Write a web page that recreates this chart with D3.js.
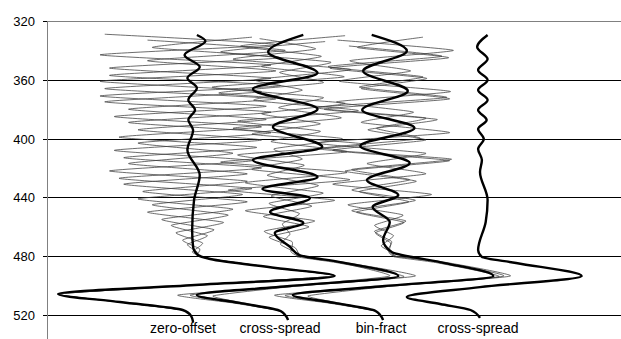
<!DOCTYPE html>
<html>
<head>
<meta charset="utf-8">
<script src="https://cdn.jsdelivr.net/npm/d3@7"></script>
<style>
  body { margin: 0; background: #fff; }
  svg { display: block; font-family: "Liberation Sans", Arial, sans-serif; }
</style>
</head>
<body>
<div id="chart"></div>
<script>
// time ticks (ms, increasing downward)
const timeTicks = [320, 360, 400, 440, 480, 520]
const groupNames = ["zero-offset", "cross-spread", "bin-fract", "cross-spread"]

// stacked (thick) traces, [time, amplitude] turning points
const zeroOffsetStack = [
  [329.5, 0.02], [333.6, 0.11], [343.1, -0.11], [351.3, 0.05], [358.8, -0.08], [365.6, 0.02],
  [373.7, -0.07], [380.5, 0.0], [387.3, -0.07], [394.1, -0.02], [407.8, -0.08], [424.8, 0.05],
  [441.8, -0.01], [462.2, -0.03], [473.7, -0.02], [479.2, 0.03], [481.9, 0.16], [488, 0.85],
  [493.5, 1.47], [499.6, 0.0], [505.7, -1.44], [511.2, -0.79], [516.6, -0.13], [520.7, -0.04], [524.8, -0.02]
]
const crossSpreadStack = [
  [329.5, 0.14], [341.1, -0.23], [355.4, 0.29], [366.3, -0.39], [379.9, 0.29], [392.1, -0.18],
  [405.7, 0.34], [414.6, -0.39], [426.1, 0.29], [434.3, -0.29], [440.4, 0.21], [449.9, -0.21],
  [457.4, 0.14], [464.2, -0.16], [473.7, 0.0], [479.2, 0.1], [484, 0.53], [493.5, 1.14],
  [500.3, 0.0], [506.4, -0.98], [511.8, -0.53], [517.3, -0.1], [523.4, -0.02]
]
const binFractStack = [
  [329.5, -0.14], [340.4, 0.23], [354, -0.23], [367.6, 0.24], [380.5, -0.24], [392.8, 0.31],
  [405, -0.26], [416.6, 0.26], [428.2, -0.19], [438.4, 0.14], [446.5, -0.13], [456.7, 0.05],
  [469, -0.02], [477.1, 0.07], [484, 0.58], [493.5, 1.14], [500.3, 0.0], [506.4, -0.97],
  [511.8, -0.53], [517.3, -0.1], [523.4, -0.02]
]
const crossSpread2Stack = [
  [329.5, 0.08], [337.7, -0.03], [345.9, 0.08], [353.3, -0.02], [360.1, 0.08], [366.9, -0.02],
  [373.7, 0.08], [380.5, -0.02], [387.3, 0.07], [393.5, -0.02], [400.3, 0.04], [407.1, -0.02],
  [414.6, 0.02], [422.7, 0.0], [441.8, 0.08], [456.7, 0.06], [475.8, -0.02], [480.5, 0.02],
  [484.6, 0.38], [493.5, 1.07], [501, 0.0], [507.8, -0.77], [512.5, -0.42], [516.6, -0.1], [522, 0.0]
]

// single (thin) traces, zero-offset group
const zeroOffsetTraces = [
  [[329, -0.95], [336, 0.85], [343, -1.0], [350, 0.8], [357, -0.9], [364, 0.9], [371, -1.0], [378, 0.75],
   [385, -0.85], [392, 0.7], [399, -0.8], [406, 0.65], [413, -0.75], [420, 0.7], [427, -0.8], [434, 0.6],
   [441, -0.6], [448, 0.4], [455, -0.35], [462, 0.2], [469, -0.13], [475, 0.05]],
  [[331, 0.6], [338, -0.45], [345, 0.9], [352, -0.9], [359, 0.8], [366, -0.95], [373, 0.85], [380, -0.7],
   [387, 0.75], [394, -0.6], [401, 0.7], [408, -0.85], [415, 0.6], [422, -0.9], [429, 0.55], [436, -0.55],
   [443, 0.55], [450, -0.5], [457, 0.3], [464, -0.2], [471, 0.08], [477, -0.03]],
  [[333, -0.5], [340, 0.95], [347, -0.5], [354, 0.85], [361, -1.0], [368, 0.7], [375, -0.95], [382, 0.8],
   [389, -0.7], [396, 0.8], [403, -0.6], [410, 0.4], [417, -0.7], [424, 0.55], [431, -0.75], [438, 0.5],
   [445, -0.45], [452, 0.35], [459, -0.25], [466, 0.13], [472, -0.08], [477, 0.02]]
]

// single traces, cross-spread group
const crossSpreadTraces = [
  [[330, 0.58], [337, -0.52], [344, 0.33], [351, -0.3], [358, 0.57], [365, -0.82], [372, 0.35], [379, -0.12],
   [386, 0.54], [393, -0.6], [400, 0.55], [407, -0.17], [414, 0.13], [421, -0.4], [428, 0.63], [435, -0.65],
   [442, 0.47], [449, -0.47], [456, 0.26], [463, -0.27], [470, 0.02], [477, 0.01],
   [480, 0.1], [484, 0.55], [493.5, 1.32], [500.3, 0.05], [506.4, -1.18], [511.8, -0.6], [517.3, -0.1], [523.4, -0.02]],
  [[332, -0.32], [339, 0.27], [346, -0.6], [353, 0.64], [360, -0.37], [367, 0.13], [374, -0.38], [381, 0.72],
   [388, -0.55], [395, 0.32], [402, -0.2], [409, 0.6], [416, -0.73], [423, 0.6], [430, -0.47], [437, 0.35],
   [444, -0.22], [451, 0.1], [458, -0.08], [465, 0.0], [472, -0.1], [478, 0.08],
   [480.5, 0.08], [484.5, 0.5], [494, 1.2], [500.8, 0.0], [507, -0.81], [512.3, -0.45], [517.5, -0.08], [523.4, -0.02]],
  [[334, 0.37], [341, -0.73], [348, 0.43], [355, -0.11], [362, 0.35], [369, -0.75], [376, 0.58], [383, -0.3],
   [390, 0.32], [397, -0.4], [404, 0.8], [411, -0.55], [418, 0.15], [425, -0.24], [432, 0.3], [439, -0.2],
   [446, 0.23], [453, -0.28], [460, 0.2], [467, -0.22], [474, 0.05],
   [480, 0.12], [484, 0.5], [493.5, 1.05], [500.5, -0.05], [506.4, -1.05], [512, -0.55], [517.3, -0.1], [523.4, -0.02]]
]

// single traces, bin-fract group
const binFractTraces = [
  [[331, 0.4], [338, -0.29], [345, 0.67], [352, -0.58], [359, 0.44], [366, -0.25], [373, 0.68], [380, -0.64],
   [387, 0.55], [394, -0.18], [401, 0.43], [408, -0.55], [415, 0.68], [422, -0.42], [429, 0.33], [436, -0.27],
   [443, 0.25], [450, -0.3], [457, 0.2], [464, -0.1], [471, 0.06], [477, 0.04],
   [480, 0.1], [484, 0.62], [493.5, 1.32], [500.3, 0.05], [506.4, -1.16], [511.8, -0.6], [517.3, -0.1], [523.4, -0.02]],
  [[333, -0.5], [340, 0.72], [347, -0.37], [354, 0.27], [361, -0.48], [368, 0.69], [375, -0.51], [382, 0.3],
   [389, -0.25], [396, 0.68], [403, -0.72], [410, 0.43], [417, -0.19], [424, 0.43], [431, -0.55], [438, 0.49],
   [445, -0.39], [452, 0.19], [459, -0.11], [466, 0.09], [473, -0.04], [478, 0.09],
   [480.5, 0.1], [484.5, 0.55], [494, 1.2], [500.8, 0.0], [507, -0.81], [512.3, -0.45], [517.5, -0.08], [523.4, -0.02]],
  [[337, -0.38], [344, 0.6], [351, -0.6], [358, 0.4], [365, -0.27], [372, 0.65], [379, -0.72], [386, 0.43],
   [393, -0.09], [400, 0.37], [407, -0.7], [414, 0.7], [421, -0.35], [428, 0.26], [435, -0.35], [442, 0.32],
   [449, -0.35], [456, 0.22], [463, -0.11], [470, 0.07], [476, 0.03],
   [480, 0.12], [484, 0.58], [493.5, 1.25], [500.5, 0.0], [506.6, -1.05], [512, -0.55], [517.3, -0.1], [523.4, -0.02]]
]

const width = 621
const height = 339
const margin = { left: 47, top: 21 }
const labelShift = [-12, -10, -4, -2]

const y = d3.scaleLinear().domain([320, 520]).range([21, 315])
const yGrid = y.copy().interpolate(d3.interpolateRound)
// trace baselines sit at 1..4 on this scale
const x = d3.scaleLinear().domain([0, 4]).range([100, 480])

const svg = d3
  .select("#chart")
  .append("svg")
  .attr("width", width)
  .attr("height", height)

// gridlines
const grid = svg
  .append("g")
  .attr("transform", `translate(${margin.left},0)`)
  .call(d3.axisLeft(yGrid).tickValues(timeTicks).tickSize(-(width - margin.left)).tickFormat(""))
grid.select(".domain").remove()
grid.selectAll("line").attr("stroke", (d) => (d === 320 ? "#808080" : "#000"))

// left axis
const axis = svg
  .append("g")
  .attr("transform", `translate(${margin.left},0)`)
  .call(d3.axisLeft(yGrid).tickValues(timeTicks).tickSize(4).tickPadding(8))
axis.select(".domain").remove()
axis.selectAll("line").attr("stroke", "#000")
axis.selectAll("text").attr("font-size", 13).attr("fill", "#000").attr("font-family", "Liberation Sans, Arial, sans-serif")

svg
  .append("line")
  .attr("x1", margin.left + 0.5)
  .attr("x2", margin.left + 0.5)
  .attr("y1", yGrid(320))
  .attr("y2", height)
  .attr("stroke", "#808080")

const line = (base, curve) =>
  d3
    .line()
    .x((d) => x(base + d[1]))
    .y((d) => y(d[0]))
    .curve(curve)

// zero-offset singles share the stacked wavelet at the bottom
const zeroTail = zeroOffsetStack.filter((d) => d[0] >= 479)

const thinGroups = [
  { base: 1, traces: zeroOffsetTraces.map((t) => t.concat(zeroTail)) },
  { base: 2, traces: crossSpreadTraces },
  { base: 3, traces: binFractTraces },
]

const thinCurve = d3.curveCardinal.tension(0.55)
thinGroups.forEach((g) => {
  svg
    .append("g")
    .selectAll("path")
    .data(g.traces)
    .enter()
    .append("path")
    .attr("d", (d) => line(g.base, thinCurve)(d))
    .attr("fill", "none")
    .attr("stroke", "#3c3c3c")
    .attr("stroke-width", 0.75)
})

const stacks = [zeroOffsetStack, crossSpreadStack, binFractStack, crossSpread2Stack]
svg
  .append("g")
  .selectAll("path")
  .data(stacks)
  .enter()
  .append("path")
  .attr("d", (d, i) => line(i + 1, d3.curveMonotoneY)(d))
  .attr("fill", "none")
  .attr("stroke", "#000")
  .attr("stroke-width", 2.4)

svg
  .append("g")
  .selectAll("text")
  .data(groupNames)
  .enter()
  .append("text")
  .attr("x", (d, i) => x(i + 1) + labelShift[i])
  .attr("y", 333)
  .attr("text-anchor", "middle")
  .attr("font-size", 14)
  .text((d) => d)
</script>
</body>
</html>
